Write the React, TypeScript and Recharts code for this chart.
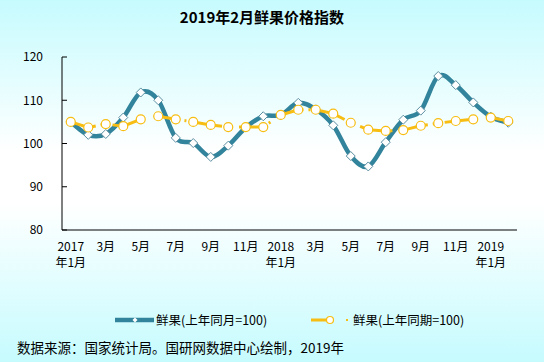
import { LineChart, Line, XAxis, YAxis } from "recharts";

// 2017年1月 — 2019年2月, monthly
const months = [
  "2017-01", "2017-02", "2017-03", "2017-04", "2017-05", "2017-06", "2017-07", "2017-08", "2017-09",
  "2017-10", "2017-11", "2017-12", "2018-01", "2018-02", "2018-03", "2018-04", "2018-05", "2018-06",
  "2018-07", "2018-08", "2018-09", "2018-10", "2018-11", "2018-12", "2019-01", "2019-02",
];
// 鲜果(上年同月=100)
const sameMonthIdx = [
  105.0, 102.0, 102.2, 106.0, 111.8, 110.0, 101.3, 100.1, 96.9, 99.5, 103.7, 106.3,
  106.6, 109.4, 107.9, 104.2, 97.1, 94.7, 100.3, 105.5, 107.6, 115.6, 113.5, 109.5, 106.2, 104.8,
];
// 鲜果(上年同期=100)
const samePeriodIdx = [
  105.0, 103.7, 104.5, 104.0, 105.6, 106.3, 105.6, 105.0, 104.3, 103.8, 103.8, 103.8,
  106.6, 107.8, 107.8, 106.9, 104.8, 103.2, 102.9, 103.1, 104.1, 104.7, 105.2, 105.6, 106.0, 105.2,
];
const yTicks = [80, 90, 100, 110, 120];
const labelTicks = [0, 2, 4, 6, 8, 10, 12, 14, 16, 18, 20, 22, 24];
const labelText = [
  "2017|年1月", "3月", "5月", "7月", "9月", "11月",
  "2018|年1月", "3月", "5月", "7月", "9月", "11月", "2019|年1月",
];

const data = months.map((m, i) => ({ i, m, a: sameMonthIdx[i], b: samePeriodIdx[i] }));
const boundaryTicks = months.map((_, i) => i - 0.5).concat(months.length - 0.5);

const TEAL = "#31849b";
const GOLD = "#f7bd12";
const FONT = "'Noto Sans CJK SC', 'Noto Sans', sans-serif";

// Excel-like smoothing (Catmull-Rom through every point)
const smoothCurve = (context: any) => {
  let pts: number[][] = [];
  return {
    areaStart() {},
    areaEnd() {},
    lineStart() {
      pts = [];
    },
    point(x: number, y: number) {
      pts.push([+x, +y]);
    },
    lineEnd() {
      if (!pts.length) return;
      context.moveTo(pts[0][0], pts[0][1]);
      for (let k = 0; k < pts.length - 1; k++) {
        const p0 = pts[Math.max(k - 1, 0)];
        const p1 = pts[k];
        const p2 = pts[k + 1];
        const p3 = pts[Math.min(k + 2, pts.length - 1)];
        context.bezierCurveTo(
          p1[0] + (p2[0] - p0[0]) / 6, p1[1] + (p2[1] - p0[1]) / 6,
          p2[0] - (p3[0] - p1[0]) / 6, p2[1] - (p3[1] - p1[1]) / 6,
          p2[0], p2[1],
        );
      }
    },
  };
};

const Diamond = (props: any) => {
  const { cx, cy, index } = props;
  if (cx == null || cy == null) return <g key={index} />;
  const s = 4.5;
  return (
    <path
      key={index}
      d={`M${cx},${cy - s}L${cx + s},${cy}L${cx},${cy + s}L${cx - s},${cy}Z`}
      fill="#fff"
      stroke="#5b8ea1"
      strokeWidth={1}
    />
  );
};

const MonthTick = (props: any) => {
  const { x, y, payload } = props;
  const text = labelText[labelTicks.indexOf(payload.value)] ?? "";
  return (
    <g>
      {text.split("|").map((line, k) => (
        <text key={k} x={x} y={y + 16 + k * 16} textAnchor="middle" fontSize={12} fill="#000" fontFamily={FONT}>
          {line}
        </text>
      ))}
    </g>
  );
};

export default function App() {
  return (
    <div
      style={{
        position: "absolute",
        left: 0,
        top: 0,
        width: 544,
        height: 362,
        overflow: "hidden",
        fontFamily: FONT,
        color: "#000",
        background: "linear-gradient(to bottom, #c6fbfe 0%, #ffffff 42%, #ffffff 56%, #c6fbfe 100%)",
      }}
    >
      <div
        style={{
          position: "absolute",
          left: 0,
          top: 6,
          width: 524,
          textAlign: "center",
          fontSize: 15,
          fontWeight: "bold",
          lineHeight: "22px",
        }}
      >
        2019年2月鲜果价格指数
      </div>

      <div style={{ position: "absolute", left: 0, top: 0 }}>
        <LineChart width={544} height={290} data={data} margin={{ top: 57, right: 27, left: 8, bottom: 10 }}>
          <XAxis
            xAxisId="b"
            type="number"
            dataKey="i"
            domain={[-0.5, months.length - 0.5]}
            ticks={boundaryTicks}
            interval={0}
            tick={false}
            tickSize={-4}
            height={5}
            axisLine={{ stroke: "#000" }}
            tickLine={{ stroke: "#000" }}
          />
          <XAxis
            xAxisId="m"
            type="number"
            dataKey="i"
            domain={[-0.5, months.length - 0.5]}
            ticks={labelTicks}
            interval={0}
            tick={<MonthTick />}
            tickSize={0}
            tickMargin={0}
            height={45}
            axisLine={false}
            tickLine={false}
          />
          <YAxis
            type="number"
            domain={[80, 120]}
            ticks={yTicks}
            interval={0}
            width={54}
            tickSize={-5}
            tickMargin={24}
            axisLine={{ stroke: "#000" }}
            tickLine={{ stroke: "#000" }}
            tick={{ fill: "#000", fontSize: 12, fontFamily: FONT }}
          />
          <Line
            xAxisId="m"
            dataKey="a"
            type={smoothCurve as any}
            stroke={TEAL}
            strokeWidth={4.5}
            dot={<Diamond />}
            activeDot={false}
            isAnimationActive={false}
          />
          <Line
            xAxisId="b"
            dataKey="b"
            type="linear"
            stroke={GOLD}
            strokeWidth={3}
            strokeDasharray="26 5 2 10"
            dot={{ r: 4.5, fill: "#fff", stroke: GOLD, strokeWidth: 1.2, strokeDasharray: "" }}
            activeDot={false}
            isAnimationActive={false}
          />
        </LineChart>
      </div>

      {/* legend */}
      <svg style={{ position: "absolute", left: 115, top: 315 }} width={40} height={10}>
        <line x1={0} y1={5} x2={39} y2={5} stroke={TEAL} strokeWidth={4.5} />
        <path d="M20,2.5L22.5,5L20,7.5L17.5,5Z" fill="#fff" />
      </svg>
      <div style={{ position: "absolute", left: 156, top: 311, fontSize: 12.5, lineHeight: "18px", whiteSpace: "nowrap" }}>
        鲜果(上年同月=100)
      </div>
      <svg style={{ position: "absolute", left: 310, top: 314, overflow: "visible" }} width={40} height={12}>
        <line x1={1} y1={6} x2={20} y2={6} stroke={GOLD} strokeWidth={3} />
        <circle cx={20} cy={6} r={3.5} fill="#fff" stroke={GOLD} strokeWidth={1.2} />
        <line x1={36} y1={6} x2={38} y2={6} stroke={GOLD} strokeWidth={2} />
      </svg>
      <div style={{ position: "absolute", left: 353, top: 311, fontSize: 12.5, lineHeight: "18px", whiteSpace: "nowrap" }}>
        鲜果(上年同期=100)
      </div>

      <div style={{ position: "absolute", left: 17, top: 337, fontSize: 13.5, lineHeight: "20px", whiteSpace: "nowrap" }}>
        数据来源：国家统计局。国研网数据中心绘制，2019年
      </div>
    </div>
  );
}
